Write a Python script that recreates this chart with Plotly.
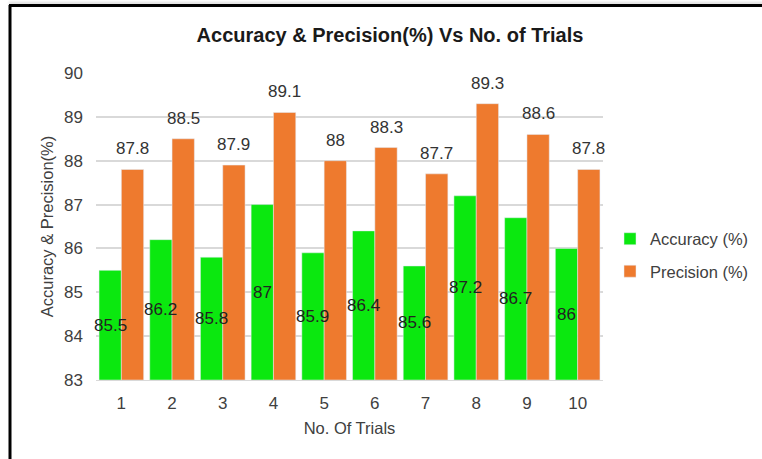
import plotly.graph_objects as go

trials = ["1", "2", "3", "4", "5", "6", "7", "8", "9", "10"]
accuracy = [85.5, 86.2, 85.8, 87.0, 85.9, 86.4, 85.6, 87.2, 86.7, 86.0]
precision = [87.8, 88.5, 87.9, 89.1, 88.0, 88.3, 87.7, 89.3, 88.6, 87.8]
y_ticks = [83, 84, 85, 86, 87, 88, 89, 90]
y_min, y_max = 83, 90

FONT = "Liberation Sans, Arial, sans-serif"

W, H = 762, 459
ml, mr, mt, mb = 96, 159, 73, 79
pw, ph = W - ml - mr, H - mt - mb
BARGAP = 0.12

# half-bar offset in pixels (2 bars per category band)
band = pw / len(trials)
bar_w = band * (1 - BARGAP) / 2
half = bar_w / 2

fig = go.Figure()
fig.add_trace(go.Bar(
    x=trials, y=[v - y_min for v in accuracy], base=y_min, name="Accuracy (%)",
    legendgroup="a", marker=dict(color="#0BE80F"), hoverinfo="skip",
))
fig.add_trace(go.Bar(
    x=trials, y=[v - y_min for v in precision], base=y_min, name="Precision (%)",
    legendgroup="b", marker=dict(color="#EE7A2E"), hoverinfo="skip",
))

annotations = []
for i, (a, p) in enumerate(zip(accuracy, precision)):
    # category axis: annotation x given as category index
    annotations.append(dict(
        x=i, y=(y_min + a) / 2, xref="x", yref="y", text=f"{a:g}", showarrow=False,
        xshift=-half, font=dict(size=17, color="#222222", family=FONT),
    ))
    annotations.append(dict(
        x=i, y=p, xref="x", yref="y", text=f"{p:g}", showarrow=False,
        xshift=half, yanchor="bottom", yshift=9,
        font=dict(size=17, color="#333333", family=FONT),
    ))

def px(xp):
    return (xp - ml) / pw

def py(yp):
    return (H - mb - yp) / ph

fig.update_layout(
    width=W, height=H,
    margin=dict(l=ml, r=mr, t=mt, b=mb, autoexpand=False),
    paper_bgcolor="white", plot_bgcolor="white",
    barmode="group", bargap=BARGAP, bargroupgap=0,
    font=dict(family=FONT, color="#404040"),
    title=dict(text="<b>Accuracy & Precision(%) Vs No. of Trials</b>",
               x=390 / W, xanchor="center", y=1 - 35 / H, yanchor="middle",
               font=dict(size=20, color="#1a1a1a", family=FONT)),
    xaxis=dict(title=dict(text="No. Of Trials", font=dict(size=16.5, color="#404040"), standoff=10),
               range=[-0.5, len(trials) - 0.5], autorange=False,
               tickfont=dict(size=17, color="#404040"), showgrid=False,
               showline=True, linecolor="#d9d9d9", ticks="", ticklabelstandoff=8),
    yaxis=dict(title=dict(text="Accuracy & Precision(%)", font=dict(size=16.5, color="#404040"), standoff=6),
               range=[y_min, y_max], autorange=False, tickvals=y_ticks, tickfont=dict(size=17, color="#404040"),
               showgrid=True, gridcolor="#d9d9d9", gridwidth=1.5, zeroline=False,
               showline=False, ticks="", ticklabelstandoff=12),
    legend=dict(xref="container", yref="container", x=610 / W, xanchor="left",
                y=1 - 255 / H, yanchor="middle",
                font=dict(size=16.5, color="#404040"), itemwidth=30,
                tracegroupgap=8, bgcolor="rgba(0,0,0,0)"),
    annotations=annotations,
    shapes=[
        dict(type="line", xref="paper", yref="paper", x0=px(10), x1=px(10), y0=py(5), y1=py(H + 5),
             line=dict(color="black", width=3)),
    ],
)

post = (
    "document.body.style.margin='0';document.body.style.overflow='hidden';"
    "var b=document.createElement('div');"
    "b.style.cssText='position:fixed;left:9px;top:4px;width:760px;height:3px;"
    "background:black;z-index:10;pointer-events:none;box-shadow:0 -2px 3px rgba(0,0,0,0.15);';"
    "document.body.appendChild(b);"
)
fig.write_html("out.html", config={"displayModeBar": False}, post_script=post)
